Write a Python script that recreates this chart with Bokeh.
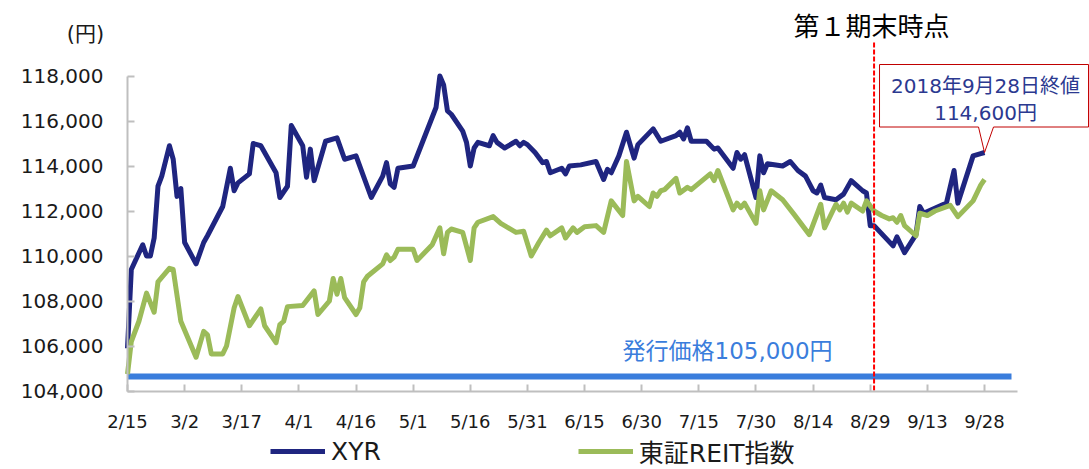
import pandas as pd
from bokeh.plotting import figure
from bokeh.models import (Range1d, FixedTicker, NumeralTickFormatter, Label,
                          Legend, LegendItem, ColumnDataSource)
from bokeh.embed import file_html
from bokeh.resources import INLINE

# ---------------- data ----------------
xyr_dates = [
    "2018-02-15", "2018-02-16", "2018-02-19", "2018-02-20", "2018-02-21", "2018-02-22",
    "2018-02-23", "2018-02-24", "2018-02-26", "2018-02-27", "2018-02-28", "2018-03-01",
    "2018-03-02", "2018-03-05", "2018-03-07", "2018-03-08", "2018-03-12", "2018-03-14",
    "2018-03-15", "2018-03-16", "2018-03-19", "2018-03-20", "2018-03-22", "2018-03-26",
    "2018-03-27", "2018-03-29", "2018-03-30", "2018-04-02", "2018-04-03", "2018-04-04",
    "2018-04-05", "2018-04-08", "2018-04-11", "2018-04-13", "2018-04-16", "2018-04-20",
    "2018-04-23", "2018-04-24", "2018-04-25", "2018-04-26", "2018-04-27", "2018-05-01",
    "2018-05-07", "2018-05-08", "2018-05-09", "2018-05-10", "2018-05-11", "2018-05-14",
    "2018-05-15", "2018-05-16", "2018-05-17", "2018-05-18", "2018-05-21", "2018-05-22",
    "2018-05-23", "2018-05-25", "2018-05-28", "2018-05-29", "2018-05-30", "2018-05-31",
    "2018-06-02", "2018-06-04", "2018-06-05", "2018-06-06", "2018-06-09", "2018-06-10",
    "2018-06-11", "2018-06-14", "2018-06-18", "2018-06-20", "2018-06-21", "2018-06-22",
    "2018-06-24", "2018-06-26", "2018-06-28", "2018-06-29", "2018-07-03", "2018-07-05",
    "2018-07-09", "2018-07-10", "2018-07-11", "2018-07-12", "2018-07-13", "2018-07-17",
    "2018-07-19", "2018-07-20", "2018-07-24", "2018-07-25", "2018-07-26", "2018-07-27",
    "2018-07-30", "2018-07-31", "2018-08-01", "2018-08-02", "2018-08-06", "2018-08-08",
    "2018-08-10", "2018-08-12", "2018-08-14", "2018-08-15", "2018-08-16", "2018-08-17",
    "2018-08-20", "2018-08-22", "2018-08-24", "2018-08-27", "2018-08-28", "2018-08-29",
    "2018-08-30", "2018-09-04", "2018-09-05", "2018-09-07", "2018-09-10", "2018-09-11",
    "2018-09-12", "2018-09-18", "2018-09-20", "2018-09-21", "2018-09-25", "2018-09-27",
    "2018-09-28",
]
xyr_values = [
    105900, 109400, 110500, 110000, 110000, 110800,
    113100, 113550, 114900, 114300, 112650, 113000,
    110600, 109650, 110600, 110900, 112200, 113900,
    112900, 113250, 113650, 115000, 114900, 113700,
    112600, 113100, 115800, 114900, 113500, 114750,
    113350, 115100, 115250, 114300, 114450, 112600,
    113550, 114150, 113200, 113050, 113900, 114000,
    116600, 118000, 117600, 116450, 116300, 115550,
    115050, 114000, 114800, 115050, 114900, 115350,
    115050, 114800, 115100, 114900, 115050, 114950,
    114600, 114150, 114200, 113700, 113900, 113650,
    114000, 114050, 114200, 113400, 113850, 113700,
    114450, 115500, 114350, 114950, 115650, 115100,
    115350, 115500, 115200, 115700, 115100, 115100,
    114750, 114800, 113900, 114600, 114300, 114500,
    112600, 114450, 113700, 114100, 114000, 114200,
    113800, 113550, 112900, 112800, 113150, 112600,
    112500, 112750, 113350, 112900, 112800, 111350,
    111350, 110450, 110850, 110150, 110950, 112200,
    111900, 112350, 113800, 112350, 114450, 114550,
    114600,
]

reit_dates = [
    "2018-02-15", "2018-02-16", "2018-02-18", "2018-02-20", "2018-02-22", "2018-02-23",
    "2018-02-26", "2018-02-27", "2018-03-01", "2018-03-05", "2018-03-07", "2018-03-08",
    "2018-03-09", "2018-03-12", "2018-03-13", "2018-03-15", "2018-03-16", "2018-03-19",
    "2018-03-22", "2018-03-23", "2018-03-26", "2018-03-27", "2018-03-28", "2018-03-29",
    "2018-04-02", "2018-04-05", "2018-04-06", "2018-04-09", "2018-04-10", "2018-04-11",
    "2018-04-12", "2018-04-13", "2018-04-16", "2018-04-17", "2018-04-18", "2018-04-19",
    "2018-04-23", "2018-04-24", "2018-04-25", "2018-04-26", "2018-04-27", "2018-05-01",
    "2018-05-02", "2018-05-06", "2018-05-08", "2018-05-09", "2018-05-10", "2018-05-11",
    "2018-05-14", "2018-05-16", "2018-05-17", "2018-05-18", "2018-05-22", "2018-05-24",
    "2018-05-28", "2018-05-30", "2018-06-01", "2018-06-03", "2018-06-05", "2018-06-06",
    "2018-06-09", "2018-06-10", "2018-06-12", "2018-06-13", "2018-06-15", "2018-06-18",
    "2018-06-20", "2018-06-22", "2018-06-25", "2018-06-26", "2018-06-28", "2018-06-29",
    "2018-07-02", "2018-07-03", "2018-07-04", "2018-07-05", "2018-07-06", "2018-07-09",
    "2018-07-10", "2018-07-12", "2018-07-13", "2018-07-18", "2018-07-19", "2018-07-20",
    "2018-07-24", "2018-07-25", "2018-07-26", "2018-07-27", "2018-07-30", "2018-07-31",
    "2018-08-01", "2018-08-03", "2018-08-06", "2018-08-09", "2018-08-13", "2018-08-16",
    "2018-08-17", "2018-08-20", "2018-08-21", "2018-08-22", "2018-08-23", "2018-08-24",
    "2018-08-27", "2018-08-28", "2018-08-30", "2018-09-01", "2018-09-03", "2018-09-04",
    "2018-09-05", "2018-09-06", "2018-09-07", "2018-09-10", "2018-09-11", "2018-09-13",
    "2018-09-15", "2018-09-19", "2018-09-21", "2018-09-25", "2018-09-27", "2018-09-28",
]
reit_values = [
    104750, 106200, 107100, 108350, 107500, 108850,
    109450, 109400, 107100, 105500, 106650, 106500,
    105650, 105650, 106000, 107700, 108200, 106900,
    107650, 106900, 106150, 106950, 107100, 107750,
    107800, 108450, 107400, 108000, 109000, 108300,
    109000, 108150, 107400, 107700, 108850, 109100,
    109650, 110050, 109800, 109950, 110300, 110300,
    109800, 110500, 111250, 110100, 111050, 111200,
    111050, 109800, 111250, 111500, 111750, 111450,
    111050, 111100, 110000, 110600, 111150, 110900,
    111250, 110800, 111250, 111050, 111300, 111350,
    111050, 112450, 111800, 114200, 112450, 112650,
    112200, 112800, 112650, 112900, 112950, 113450,
    112800, 113050, 112950, 113650, 113350, 113800,
    112050, 112350, 112150, 112350, 111450, 112900,
    112050, 112900, 112500, 111850, 110950, 112300,
    111250, 112300, 112050, 112350, 111950, 112350,
    112000, 112450, 112000, 111800, 111650, 111700,
    111500, 111800, 111350, 110900, 111900, 111800,
    112000, 112250, 111750, 112450, 113150, 113400,
]

x_tick_dates = ["2018-02-15", "2018-03-02", "2018-03-17", "2018-04-01", "2018-04-16",
                "2018-05-01", "2018-05-16", "2018-05-31", "2018-06-15", "2018-06-30",
                "2018-07-15", "2018-07-30", "2018-08-14", "2018-08-29", "2018-09-13",
                "2018-09-28"]
x_tick_labels = ["2/15", "3/2", "3/17", "4/1", "4/16", "5/1", "5/16", "5/31", "6/15",
                 "6/30", "7/15", "7/30", "8/14", "8/29", "9/13", "9/28"]
y_ticks = [104000, 106000, 108000, 110000, 112000, 114000, 116000, 118000]

series_names = ["XYR", "東証REIT指数"]
issue_price_text = "発行価格105,000円"
issue_line_level = 104640
period_end = "2018-08-30"
period_text = "第１期末時点"
close_text = ["2018年9月28日終値", "114,600円"]
unit_text = "(円)"

# ---------------- geometry helpers (canvas px -> data) ----------------
FONT = "DejaVu Sans, Noto Sans CJK JP"
CJK = "Noto Sans CJK JP"
DAY_MS = 86400000.0
PX_PER_DAY = 3.809
PX_PER_VAL = 0.0225
W, H = 1089, 469


def ms(s):
    return pd.Timestamp(s).value / 1e6


BASE_MS = ms("2018-02-15")


def x_at(px):
    return BASE_MS + (px - 127) / PX_PER_DAY * DAY_MS


def y_at(py):
    return 104000 + (390.5 - py) / PX_PER_VAL


def dx(px):
    return px / PX_PER_DAY * DAY_MS


def dy(px):
    return px / PX_PER_VAL


p = figure(width=W, height=H, x_axis_type="datetime",
           x_range=Range1d(x_at(0), x_at(W)),
           y_range=Range1d(y_at(H), y_at(0)),
           output_backend="svg", toolbar_location=None,
           min_border_left=0, min_border_right=0,
           min_border_top=0, min_border_bottom=0)
p.outline_line_color = None
p.xgrid.grid_line_color = None
p.ygrid.grid_line_color = None
p.background_fill_color = "white"
p.border_fill_color = "white"

# axes (drawn at fixed data locations inside the full-canvas frame)
AX = "#BFBFBF"
xa = p.xaxis[0]
xa.fixed_location = y_at(391)
xa.ticker = FixedTicker(ticks=[ms(d) for d in x_tick_dates])
xa.major_label_overrides = {ms(d): lab for d, lab in zip(x_tick_dates, x_tick_labels)}
xa.bounds = (x_at(127), x_at(1017))
xa.axis_line_color = AX
xa.axis_line_width = 2
xa.major_tick_line_color = AX
xa.major_tick_line_width = 2
xa.major_tick_in = 7
xa.major_tick_out = 0
xa.minor_tick_line_color = None
xa.major_label_text_font = FONT
xa.major_label_text_font_size = "18px"
xa.major_label_text_color = "#1a1a1a"
xa.major_label_standoff = 19

ya = p.yaxis[0]
ya.fixed_location = x_at(127)
ya.ticker = FixedTicker(ticks=y_ticks)
ya.formatter = NumeralTickFormatter(format="0,0")
ya.bounds = (104000, 118000)
ya.axis_line_color = AX
ya.axis_line_width = 2
ya.major_tick_line_color = AX
ya.major_tick_line_width = 2
ya.major_tick_in = 7
ya.major_tick_out = 0
ya.minor_tick_line_color = None
ya.major_label_text_font = FONT
ya.major_label_text_font_size = "20px"
ya.major_label_text_color = "#1a1a1a"
ya.major_label_standoff = 24

# issue price line
p.segment(x0=[ms("2018-02-15")], x1=[x_at(1011)], y0=[issue_line_level], y1=[issue_line_level],
          line_color="#3A7DDC", line_width=6)

# series
src_x = ColumnDataSource(dict(x=pd.to_datetime(xyr_dates), y=xyr_values))
src_r = ColumnDataSource(dict(x=pd.to_datetime(reit_dates), y=reit_values))
r_xyr = p.line("x", "y", source=src_x, line_color="#1F2580", line_width=5, line_join="round")
r_reit = p.line("x", "y", source=src_r, line_color="#9BBB59", line_width=5, line_join="round")

# period end dashed line
pe = ms(period_end)
p.segment(x0=[pe], x1=[pe], y0=[y_at(42)], y1=[y_at(391)],
          line_color="#FF0000", line_width=2, line_dash="5 2")

# callout box anchored at last XYR point
tx = ms(xyr_dates[-1])
tyv = xyr_values[-1]
L, R, T, B = -105, 104, -88, -25.5
bx = [L, R, R, 9, 0, -6, L]
by = [T, T, B, B, 0, B, B]
p.patch([tx + dx(v) for v in bx], [tyv - dy(v) for v in by],
        fill_color="white", line_color="#C00000", line_width=1)

for txt, off in zip(close_text, [67, 40]):
    p.add_layout(Label(x=tx + dx(1), y=tyv + dy(off), text=txt, text_align="center",
                       text_baseline="middle", text_font=FONT, text_font_size="20px",
                       text_color="#2B3990"))

p.add_layout(Label(x=x_at(622), y=y_at(350), text=issue_price_text, text_align="left",
                   text_baseline="middle", text_font=FONT, text_font_size="23px",
                   text_color="#3A7DDC"))
p.add_layout(Label(x=x_at(871), y=y_at(24), text=period_text, text_align="center",
                   text_baseline="middle", text_font=CJK, text_font_size="26px",
                   text_color="#000000"))
p.add_layout(Label(x=x_at(85), y=y_at(33), text=unit_text, text_align="center",
                   text_baseline="middle", text_font=FONT, text_font_size="21px",
                   text_color="#1a1a1a"))

legend = Legend(items=[LegendItem(label=series_names[0], renderers=[r_xyr]),
                       LegendItem(label=series_names[1], renderers=[r_reit])],
                orientation="horizontal", location=(270, 0))
legend.label_text_font = FONT
legend.label_text_font_size = "25px"
legend.label_text_color = "#1a1a1a"
legend.glyph_width = 55
legend.glyph_height = 20
legend.label_standoff = 6
legend.spacing = 197
legend.padding = 0
legend.margin = 0
legend.border_line_color = None
legend.background_fill_alpha = 0
p.add_layout(legend)

open("out.html", "w").write(file_html(p, INLINE))
